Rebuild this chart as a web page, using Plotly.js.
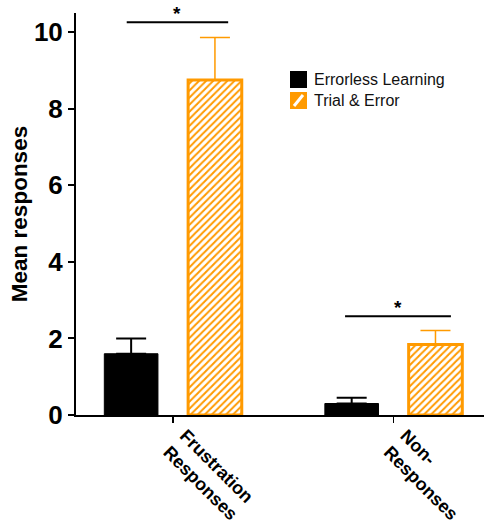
<!DOCTYPE html>
<html>
<head>
<meta charset="utf-8">
<script src="https://cdn.plot.ly/plotly-3.0.1.min.js"></script>
<style>html,body{margin:0;padding:0;background:#fff;}#chart{width:484px;height:529px;}</style>
</head>
<body>
<div id="chart"></div>
<script>
const categories = ["Frustration<br>Responses", "Non-<br>Responses"];
const errorlessMeans = [1.60, 0.30];
const errorlessErr = [0.40, 0.15];
const trialMeans = [8.75, 1.84];
const trialErr = [1.11, 0.37];
const seriesNames = ["Errorless Learning", "Trial & Error"];
const yTicks = [0, 2, 4, 6, 8, 10];
const sigLabels = ["*", "*"];
const sigHeights = [10.26, 2.58];

const orange = "#FF9A00";
const traces = [
  {
    type: "bar", name: seriesNames[0], x: categories, y: errorlessMeans, showlegend: false,
    marker: {color: "#000000", line: {color: "#000000", width: 1}},
    error_y: {type: "data", array: errorlessErr, symmetric: false, arrayminus: [0, 0], color: "#000000", thickness: 2, width: 15}
  },
  {
    type: "bar", name: seriesNames[1], x: categories, y: trialMeans, showlegend: false,
    marker: {color: "#ffffff", line: {color: orange, width: 3},
      pattern: {shape: "/", fgcolor: orange, bgcolor: "#ffffff", size: 5, solidity: 0.4}},
    error_y: {type: "data", array: trialErr, symmetric: false, arrayminus: [0, 0], color: orange, thickness: 1.5, width: 15}
  }
];

const sigSpans = [[-0.21, 0.25], [0.78, 1.26]];
const shapes = sigSpans.map((s, i) => ({
  type: "line", xref: "x", yref: "y", x0: s[0], x1: s[1], y0: sigHeights[i], y1: sigHeights[i],
  line: {color: "#000", width: 2}
}));
const annotations = sigSpans.map((s, i) => ({
  xref: "x", yref: "y", x: (s[0] + s[1]) / 2, y: sigHeights[i], text: sigLabels[i],
  showarrow: false, yanchor: "bottom", yshift: -4,
  font: {family: "Liberation Sans, Arial, sans-serif", size: 19, color: "#000", weight: "bold"}
}));

// custom legend (pixel-sized keys like the reference); paper coords = plot area
const W = 484, H = 529;
const M = {l: 76, r: 0, t: 13, b: 114};
const PW = W - M.l - M.r, PH = H - M.t - M.b;
const px = (x) => (x - M.l) / PW, py = (y) => (H - M.b - y) / PH;
const legendKeys = [
  {y0: 71, fill: "#000000"},
  {y0: 92, fill: orange}
];
legendKeys.forEach((k, i) => {
  shapes.push({type: "rect", xref: "paper", yref: "paper", x0: px(290), x1: px(307), y0: py(k.y0 + 17), y1: py(k.y0),
    fillcolor: k.fill, line: {width: 0}});
  if (i === 1) {
    shapes.push({type: "line", xref: "paper", yref: "paper", x0: px(294), x1: px(303), y0: py(k.y0 + 14), y1: py(k.y0 + 3),
      line: {color: "#fff", width: 3}});
  }
  annotations.push({xref: "paper", yref: "paper", x: px(312), y: py(k.y0 + 8.5), xanchor: "left", yanchor: "middle",
    text: seriesNames[i], showarrow: false, font: {family: "Liberation Sans, Arial, sans-serif", size: 16, color: "#111"}});
});

const layout = {
  width: W, height: H,
  margin: M,
  paper_bgcolor: "#fff", plot_bgcolor: "#fff",
  showlegend: false,
  barmode: "group", bargap: 0.24, bargroupgap: 0.36,
  font: {family: "Liberation Sans, Arial, sans-serif", color: "#000"},
  xaxis: {
    type: "category", range: [-0.44, 1.41], showgrid: false, zeroline: false,
    showline: true, linecolor: "#000", linewidth: 2,
    ticks: "outside", ticklen: 6, tickwidth: 1.5, tickcolor: "#000",
    tickangle: 45, ticklabelshift: 12, ticklabelstandoff: -5,
    tickfont: {size: 18, weight: "bold", color: "#000"}
  },
  yaxis: {
    range: [0, 10.5], tickvals: yTicks, showgrid: false, zeroline: false,
    showline: true, linecolor: "#000", linewidth: 2,
    ticks: "outside", ticklen: 6, tickwidth: 2, tickcolor: "#000",
    tickfont: {family: "Liberation Sans Narrow, Arial Narrow, sans-serif", size: 26, weight: "bold", color: "#000"},
    title: {text: "Mean responses", font: {size: 22.5, weight: "bold", color: "#000"}, standoff: 0}
  },
  shapes: shapes,
  annotations: annotations
};

Plotly.newPlot("chart", traces, layout, {displayModeBar: false, staticPlot: true});
</script>
</body>
</html>
